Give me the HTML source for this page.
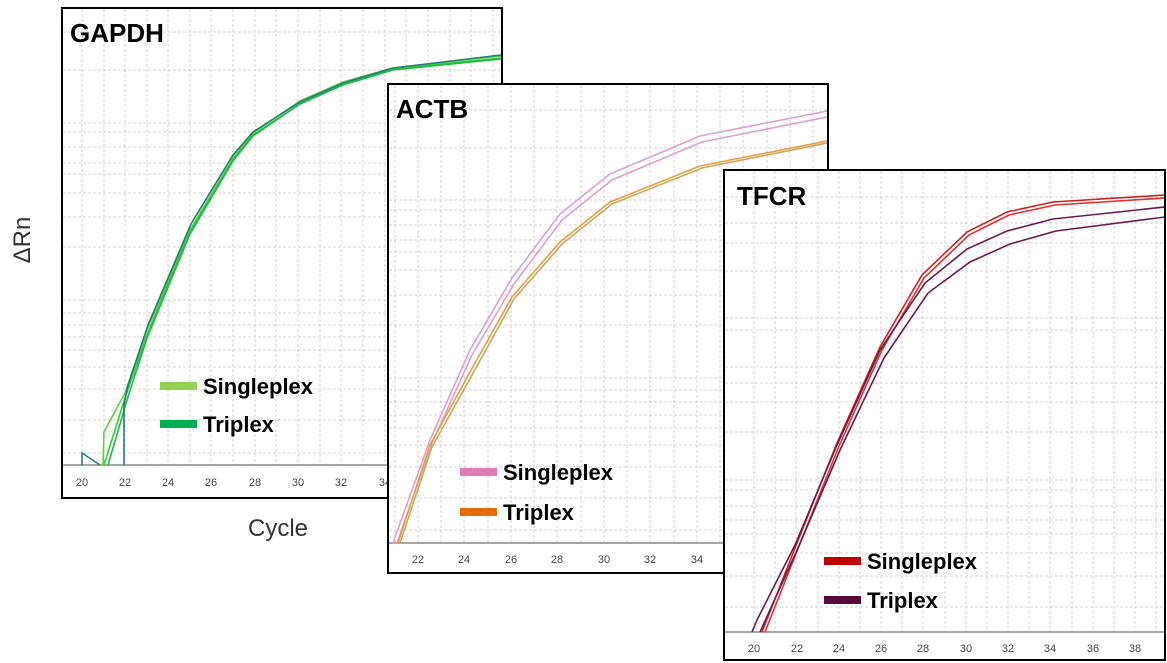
<!DOCTYPE html>
<html><head><meta charset="utf-8"><style>
html,body{margin:0;padding:0;background:#fff;}
svg{display:block;}
.t{font-family:"Liberation Sans",sans-serif;font-weight:bold;fill:#000;}
.tk{font-family:"Liberation Sans",sans-serif;font-size:11px;fill:#444;}
.g{stroke:#d0d0d0;stroke-width:1;stroke-dasharray:3,2;}
</style></head><body>
<svg width="1167" height="663" viewBox="0 0 1167 663" xmlns="http://www.w3.org/2000/svg">
<defs>
<clipPath id="c1"><rect x="63" y="9" width="438" height="488"/></clipPath>
<clipPath id="c2"><rect x="389" y="85" width="438" height="487"/></clipPath>
<clipPath id="c3"><rect x="725" y="171" width="439" height="488"/></clipPath>
</defs>
<text x="30" y="240" transform="rotate(-90 30 240)" text-anchor="middle" font-family="Liberation Sans, sans-serif" font-size="24" fill="#333">ΔRn</text>
<text x="278" y="536" text-anchor="middle" font-family="Liberation Sans, sans-serif" font-size="24" fill="#333">Cycle</text>

<!-- Panel 1 GAPDH -->
<rect x="62" y="8" width="440" height="490" fill="#fff" stroke="#000" stroke-width="2"/>
<g clip-path="url(#c1)">
<g class="g">
<path d="M82 9V465M104 9V465M125 9V465M147 9V465M168 9V465M190 9V465M211 9V465M233 9V465M255 9V465M276 9V465M298 9V465M320 9V465M341 9V465M363 9V465M385 9V465M406 9V465M428 9V465M450 9V465M471 9V465M493 9V465"/>
<path d="M63 32H501M63 70H501M63 123H501M63 132H501M63 147H501M63 163H501M63 174H501M63 193H501M63 217H501M63 247H501M63 300H501M63 313H501M63 325H501M63 337H501M63 350H501M63 367H501M63 389H501M63 420H501M63 453H501"/>
</g>
<line x1="63" y1="465" x2="501" y2="465" stroke="#888" stroke-width="1.5"/>
<g class="tk" text-anchor="middle"><text x="82" y="486">20</text><text x="125" y="486">22</text><text x="168" y="486">24</text><text x="211" y="486">26</text><text x="255" y="486">28</text><text x="298" y="486">30</text><text x="341" y="486">32</text><text x="385" y="486">34</text></g>
<g fill="none" stroke-width="1.6">
<path d="M82 465V453L100 465" stroke="#2b7d7d"/>
<path d="M103 465L104 432L125 393L147 330L190 230L233 158L253 133L300 101L343 82L393 68L501 56" stroke="#5fd13a"/>
<path d="M104 465L125 398L147 335L190 232L233 160L253 135L300 104L343 84L393 69L501 58" stroke="#2ecf2e"/>
<path d="M108 465L127 400L147 338L190 234L233 161L253 136L300 104L343 85L393 70L501 59" stroke="#1fb84a"/>
<path d="M124 465V405L128 385L148 325L191 224L233 155L253 132L300 102L343 83L393 68L501 55" stroke="#237a80"/>
</g>
<rect x="160" y="382" width="37" height="8" fill="#92d050"/>
<rect x="160" y="420" width="37" height="8" fill="#00b050"/>
<text class="t" x="203" y="394" font-size="22">Singleplex</text>
<text class="t" x="203" y="432" font-size="22">Triplex</text>
<text class="t" x="70" y="42" font-size="26">GAPDH</text>
</g>

<!-- Panel 2 ACTB -->
<rect x="388" y="84" width="440" height="489" fill="#fff" stroke="#000" stroke-width="2"/>
<g clip-path="url(#c2)">
<g class="g">
<path d="M395 85V543M418 85V543M441 85V543M464 85V543M488 85V543M511 85V543M534 85V543M557 85V543M581 85V543M604 85V543M627 85V543M650 85V543M674 85V543M697 85V543M720 85V543M743 85V543M767 85V543M790 85V543M813 85V543"/>
<path d="M389 110H827M389 148H827M389 200H827M389 210H827M389 225H827M389 240H827M389 252H827M389 270H827M389 295H827M389 325H827M389 378H827M389 390H827M389 402H827M389 415H827M389 428H827M389 445H827M389 467H827M389 498H827M389 530H827"/>
</g>
<line x1="389" y1="543" x2="827" y2="543" stroke="#888" stroke-width="1.5"/>
<g class="tk" text-anchor="middle"><text x="418" y="563">22</text><text x="464" y="563">24</text><text x="511" y="563">26</text><text x="557" y="563">28</text><text x="604" y="563">30</text><text x="650" y="563">32</text><text x="697" y="563">34</text></g>
<g fill="none" stroke-width="1.6">
<path d="M393 543L430 440L470 350L512 278L560 214L610 174L700 136L827 111" stroke="#d9a0d0"/>
<path d="M397 543L432 443L472 355L514 284L562 220L612 180L702 142L827 117" stroke="#d9a0d0"/>
<path d="M398 543L430 445L470 372L512 297L560 242L610 202L700 166L827 141" stroke="#e2a040"/>
<path d="M400 543L432 447L472 375L514 299L562 244L612 204L702 168L827 143" stroke="#c8a860"/>
</g>
<rect x="460" y="468" width="37" height="8" fill="#e07bb5"/>
<rect x="460" y="508" width="37" height="8" fill="#e46c0a"/>
<text class="t" x="503" y="480" font-size="22">Singleplex</text>
<text class="t" x="503" y="520" font-size="22">Triplex</text>
<text class="t" x="396" y="118" font-size="26">ACTB</text>
</g>

<!-- Panel 3 TFCR -->
<rect x="724" y="170" width="441" height="490" fill="#fff" stroke="#000" stroke-width="2"/>
<g clip-path="url(#c3)">
<g class="g">
<path d="M754 171V632M775 171V632M796 171V632M818 171V632M839 171V632M860 171V632M881 171V632M902 171V632M923 171V632M945 171V632M966 171V632M987 171V632M1008 171V632M1029 171V632M1050 171V632M1072 171V632M1093 171V632M1114 171V632M1135 171V632M1156 171V632"/>
<path d="M725 197H1164M725 223H1164M725 243H1164M725 271H1164M725 318H1164M725 330H1164M725 367H1164M725 383H1164M725 402H1164M725 432H1164M725 480H1164M725 490H1164M725 506H1164M725 520H1164M725 534H1164M725 553H1164M725 576H1164M725 607H1164"/>
</g>
<line x1="725" y1="632" x2="1164" y2="632" stroke="#888" stroke-width="1.5"/>
<g class="tk" text-anchor="middle"><text x="754" y="652">20</text><text x="797" y="652">22</text><text x="839" y="652">24</text><text x="881" y="652">26</text><text x="923" y="652">28</text><text x="966" y="652">30</text><text x="1008" y="652">32</text><text x="1050" y="652">34</text><text x="1093" y="652">36</text><text x="1135" y="652">38</text></g>
<g fill="none" stroke-width="1.6">
<path d="M762 632L797 543L837 443L880 347L922 275L967 232L1007 212L1053 202L1165 195" stroke="#d02020"/>
<path d="M765 632L799 546L839 446L882 350L924 278L969 235L1009 215L1055 205L1165 198" stroke="#e03030"/>
<path d="M752 632L757 620L795 545L837 445L880 350L925 283L967 249L1007 231L1053 219L1165 207" stroke="#6a1a4a"/>
<path d="M760 632L798 548L840 450L884 358L928 293L970 262L1010 244L1056 231L1165 217" stroke="#6a1a4a"/>
</g>
<rect x="824" y="557" width="37" height="8" fill="#c00000"/>
<rect x="824" y="596" width="37" height="8" fill="#5a0a3a"/>
<text class="t" x="867" y="569" font-size="22">Singleplex</text>
<text class="t" x="867" y="608" font-size="22">Triplex</text>
<text class="t" x="737" y="205" font-size="26">TFCR</text>
</g>
</svg>
</body></html>
